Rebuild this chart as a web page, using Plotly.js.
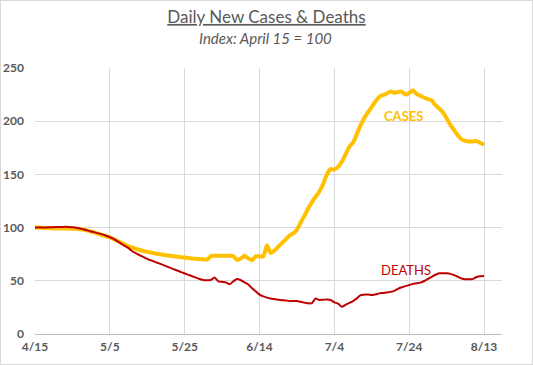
<!DOCTYPE html>
<html>
<head>
<meta charset="utf-8">
<script src="https://cdn.plot.ly/plotly-3.0.1.min.js"></script>
<style>
  html, body { margin: 0; padding: 0; background: #fff; }
  #wrap { position: relative; width: 533px; height: 365px; }
  #chart { width: 533px; height: 365px; }
  #frame { position: absolute; left: 0; top: 0; width: 531px; height: 363px; border: 1px solid #D9D9D9; pointer-events: none; }
</style>
</head>
<body>
<div id="wrap"><div id="chart"></div><div id="frame"></div></div>
<script>
// Daily values, index April 15 = 100, one value per day from 4/15 to 8/13
const startDate = '2020-04-15';
const cases = [
  100, 100, 99.8, 99.6, 99.4, 99.3, 99.2, 99.2, 99.2, 99.1,
  99.0, 98.8, 98.4, 97.9, 97.2, 96.3, 95.2, 94.0, 92.8, 91.8,
  90.8, 89.2, 87.5, 85.8, 84.1, 82.5, 81.1, 80.0, 78.9, 78.0,
  77.2, 76.5, 75.8, 75.2, 74.6, 74.1, 73.6, 73.1, 72.6, 72.2,
  71.8, 71.4, 71.0, 70.7, 70.4, 70.2, 70.0, 73.2, 73.5, 73.5,
  73.5, 73.5, 73.5, 73.2, 69.5, 71.0, 73.5, 71.0, 69.4, 73.0,
  73.0, 73.0, 83.5, 76.0, 78.5, 82.0, 85.5, 89.0, 92.5, 94.5,
  98.0, 105, 111, 118, 124, 129, 134, 141, 150, 155,
  154.5, 157, 162, 169, 176, 180, 188, 196, 203, 208.5,
  213.5, 218.5, 223, 224.5, 226, 228, 226.7, 227.5, 227.8, 225,
  226.5, 229, 225.5, 224, 222, 220.8, 219.5, 215, 212, 208.5,
  202.5, 196.5, 191.5, 186.7, 183, 181.5, 181, 181, 181.3, 179.5,
  178
];
const deaths = [
  100, 100, 100.1, 100.2, 100.3, 100.4, 100.5, 100.6, 100.7, 100.6,
  100.3, 99.9, 99.2, 98.3, 97.4, 96.3, 95.5, 94.6, 93.6, 92.4,
  91.0, 89.3, 87.2, 85.0, 82.8, 80.7, 77.8, 75.8, 74.0, 72.2,
  70.6, 69.2, 67.8, 66.6, 65.2, 63.8, 62.4, 61.0, 59.7, 58.2,
  56.9, 55.6, 54.3, 53.0, 51.7, 50.7, 50.5, 50.8, 53.0, 49.5,
  49.0, 48.5, 46.7, 49.5, 51.6, 50.5, 48.5, 46.5, 43.0, 40.0,
  37.0, 35.3, 34.2, 33.4, 32.8, 32.2, 31.8, 31.5, 31.1, 31.0,
  31.0, 30.3, 29.5, 28.8, 29.0, 33.3, 32.0, 32.2, 32.5, 31.9,
  29.8, 28.5, 25.6, 27.5, 29.3, 31.0, 33.5, 36.6, 37.0, 37.2,
  36.6, 37.3, 38.2, 38.6, 39.1, 39.6, 40.5, 42.5, 43.9, 45.0,
  46.0, 47.1, 47.6, 48.3, 49.8, 51.8, 53.8, 55.7, 57.0, 57.0,
  57.0, 56.5, 55.3, 53.8, 52.2, 51.4, 51.4, 51.6, 53.6, 54.3,
  54.4
];
const xTickLabels = ['4/15', '5/5', '5/25', '6/14', '7/4', '7/24', '8/13'];
const seriesLabels = ['CASES', 'DEATHS'];
const titleText = 'Daily New Cases & Deaths';
const subtitleText = 'Index: April 15 = 100';

// Build day-by-day x values from the start date
function addDays(iso, n) {
  const d = new Date(iso + 'T00:00:00Z');
  d.setUTCDate(d.getUTCDate() + n);
  return d.toISOString().slice(0, 10);
}
const dates = cases.map((_, i) => addDays(startDate, i));
const tickDates = xTickLabels.map((_, i) => addDays(startDate, i * 20));

const font = 'Lato, "Open Sans", sans-serif';
const grey = '#595959';

const traces = [
  { x: dates, y: cases, type: 'scatter', mode: 'lines', name: seriesLabels[0],
    line: { color: '#FFC000', width: 4, shape: 'spline', smoothing: 0.6 }, hoverinfo: 'skip' },
  { x: dates, y: deaths, type: 'scatter', mode: 'lines', name: seriesLabels[1],
    line: { color: '#C00000', width: 2, shape: 'spline', smoothing: 0.6 }, hoverinfo: 'skip' }
];

const layout = {
  width: 533, height: 365,
  margin: { l: 34.5, r: 31, t: 67.5, b: 31, pad: 0 },
  paper_bgcolor: '#fff', plot_bgcolor: '#fff',
  showlegend: false,
  font: { family: font, color: grey, size: 12 },
  title: {
    text: '<u>' + titleText + '</u>',
    x: 0.5, xref: 'container', xanchor: 'center',
    y: 1 - 17 / 365, yref: 'container', yanchor: 'middle',
    font: { family: font, size: 17, color: grey }
  },
  xaxis: {
    type: 'date',
    range: [addDays(startDate, 0) + ' 00:00', addDays(startDate, 124) + ' 19:00'],
    tickvals: tickDates, ticktext: xTickLabels,
    showgrid: true, gridcolor: '#D9D9D9', gridwidth: 1,
    showline: true, linecolor: '#BFBFBF', linewidth: 1,
    ticks: '', ticklen: 0, ticklabelstandoff: 2,
    tickfont: { family: font, size: 12, color: grey, weight: 'bold' },
    zeroline: false, fixedrange: true
  },
  yaxis: {
    range: [0, 250], dtick: 50, tick0: 0,
    showgrid: true, gridcolor: '#D9D9D9', gridwidth: 1,
    showline: false, zeroline: false,
    ticks: '', ticklabelstandoff: 10,
    tickfont: { family: font, size: 12, color: grey, weight: 'bold' },
    fixedrange: true
  },
  annotations: [
    { text: '<i>' + subtitleText + '</i>', xref: 'paper', yref: 'paper',
      x: (265 - 34.5) / (533 - 34.5 - 31), y: (334 - 37) / 266.5, xanchor: 'center', yanchor: 'middle',
      showarrow: false, font: { family: font, size: 15, color: grey } },
    { text: seriesLabels[0], x: addDays(startDate, 98) + ' 12:00', y: 205, xref: 'x', yref: 'y',
      showarrow: false, font: { family: font, size: 13, color: '#FFC000', weight: 'bold' } },
    { text: seriesLabels[1], x: addDays(startDate, 99) + ' 06:00', y: 60, xref: 'x', yref: 'y',
      showarrow: false, font: { family: font, size: 13, color: '#C00000' } }
  ]
};

Plotly.newPlot('chart', traces, layout, { displayModeBar: false, staticPlot: true });
</script>
</body>
</html>
